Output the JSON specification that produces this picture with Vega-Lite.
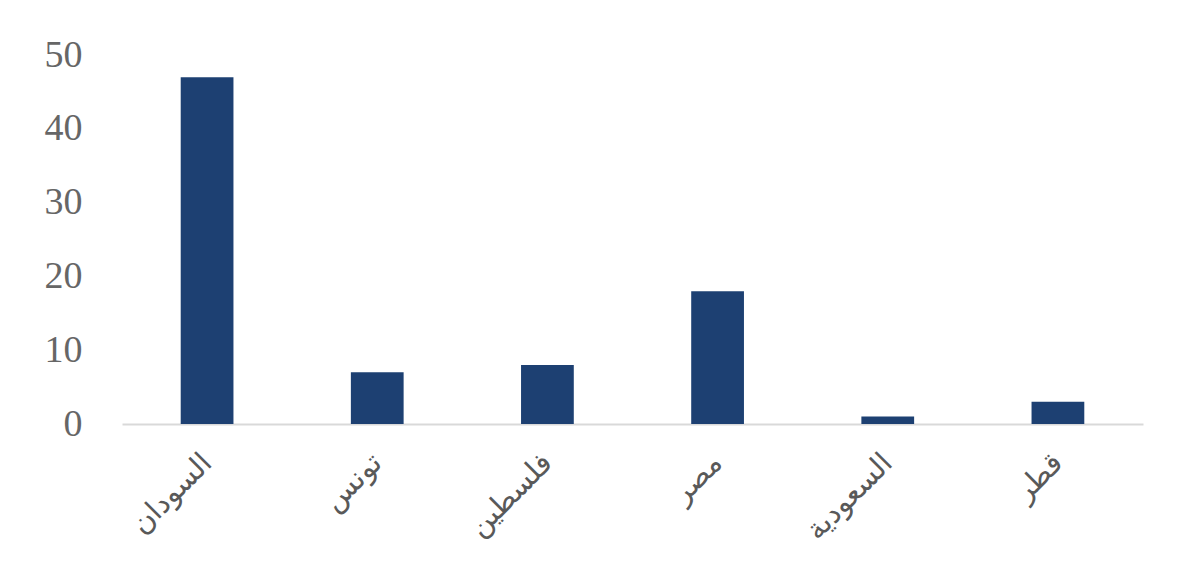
{
  "$schema": "https://vega.github.io/schema/vega-lite/v6.json",
  "autosize": "none",
  "width": 1021,
  "height": 369,
  "padding": {"left": 122, "top": 55, "right": 54, "bottom": 163},
  "background": "white",
  "data": {
    "values": [
      {"country": "السودان", "value": 47},
      {"country": "تونس", "value": 7},
      {"country": "فلسطين", "value": 8},
      {"country": "مصر", "value": 18},
      {"country": "السعودية", "value": 1},
      {"country": "قطر", "value": 3}
    ]
  },
  "mark": {"type": "bar", "color": "#1D4072"},
  "encoding": {
    "x": {
      "field": "country",
      "type": "nominal",
      "sort": null,
      "scale": {"paddingInner": 0.69, "paddingOuter": 0.345},
      "axis": {
        "title": null,
        "labelAngle": -45,
        "labelFont": "DejaVu Sans",
        "labelFontSize": 29,
        "labelColor": "#595959",
        "labelPadding": 24,
        "labelOffset": -10,
        "ticks": false,
        "domainColor": "#D9D9D9",
        "domainWidth": 2
      }
    },
    "y": {
      "field": "value",
      "type": "quantitative",
      "scale": {"domain": [0, 50]},
      "axis": {
        "title": null,
        "values": [0, 10, 20, 30, 40, 50],
        "grid": false,
        "domain": false,
        "ticks": false,
        "labelFont": "Liberation Serif",
        "labelFontSize": 38,
        "labelColor": "#666666",
        "labelPadding": 40
      }
    }
  },
  "config": {"view": {"stroke": null}}
}
